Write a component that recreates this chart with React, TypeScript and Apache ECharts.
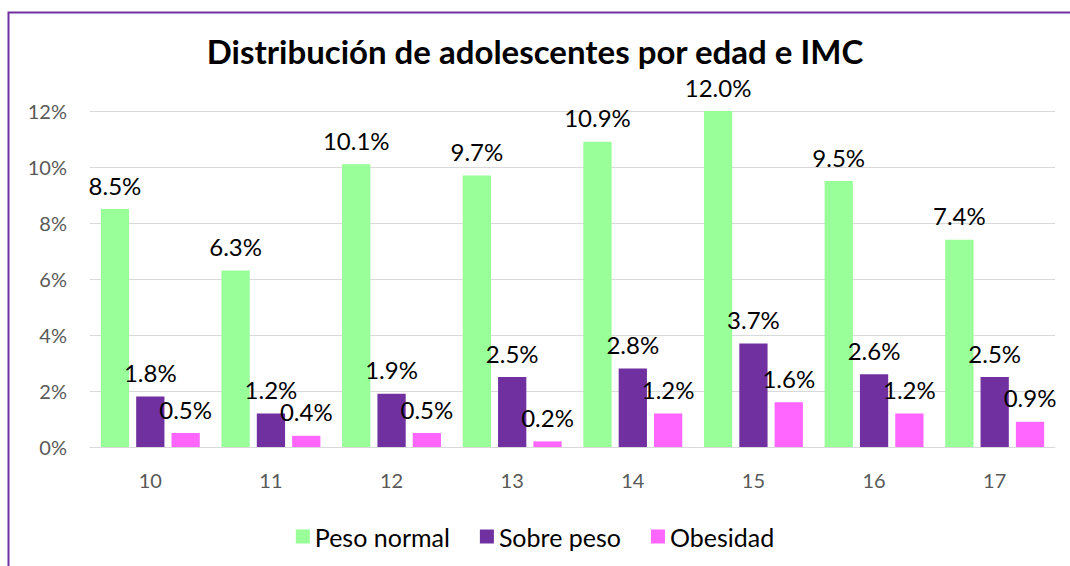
import React, { useEffect, useRef } from "react";
import * as echarts from "echarts";

const categories = ["10", "11", "12", "13", "14", "15", "16", "17"];
const pesoNormal = [8.5, 6.3, 10.1, 9.7, 10.9, 12.0, 9.5, 7.4];
const sobrePeso = [1.8, 1.2, 1.9, 2.5, 2.8, 3.7, 2.6, 2.5];
const obesidad = [0.5, 0.4, 0.5, 0.2, 1.2, 1.6, 1.2, 0.9];
const seriesNames = ["Peso normal", "Sobre peso", "Obesidad"];
const colors = ["#99FF99", "#7030A0", "#FF66FF"];

const FONT = "Lato, 'Noto Sans', sans-serif";

export default function App() {
  const ref = useRef<HTMLDivElement>(null);
  useEffect(() => {
    document.body.style.margin = "0";
    const chart = echarts.init(ref.current!, null, { renderer: "svg" });
    const mk = (name: string, data: number[], color: string) => ({
      name,
      type: "bar",
      data,
      barGap: "25%",
      barCategoryGap: "18%",
      itemStyle: { color },
      label: {
        show: true,
        position: "top",
        distance: 12,
        formatter: (p: any) => p.value.toFixed(1) + "%",
        color: "#000",
        fontSize: 24,
        lineHeight: 24,
        fontFamily: FONT,
      },
    });
    chart.setOption({
      animation: false,
      backgroundColor: "#fff",
      textStyle: { fontFamily: FONT },
      title: {
        text: "Distribución de adolescentes por edad e IMC",
        left: "center",
        top: 34,
        padding: 0,
        textStyle: {
          fontSize: 33,
          lineHeight: 33,
          fontWeight: "bold",
          color: "#000",
          fontFamily: FONT,
        },
      },
      graphic: [
        {
          type: "rect",
          shape: { x: 8.5, y: 12.5, width: 1200, height: 700 },
          style: { fill: "none", stroke: "#7030A0", lineWidth: 2 },
          silent: true,
        },
      ],
      legend: {
        data: seriesNames,
        top: 519,
        left: "center",
        itemWidth: 14,
        itemHeight: 14,
        itemGap: 30,
        icon: "rect",
        textStyle: { fontSize: 25, color: "#000", fontFamily: FONT },
      },
      grid: { left: 90, right: 15, top: 111, bottom: 119 },
      xAxis: {
        type: "category",
        data: categories,
        axisLine: { lineStyle: { color: "#D9D9D9", width: 1 } },
        axisTick: { show: false },
        axisLabel: { color: "#595959", fontSize: 20, margin: 23, fontFamily: FONT },
      },
      yAxis: {
        type: "value",
        min: 0,
        max: 12,
        interval: 2,
        axisLine: { show: false },
        axisTick: { show: false },
        splitLine: { lineStyle: { color: "#D9D9D9", width: 1 } },
        axisLabel: {
          color: "#595959",
          fontSize: 20,
          margin: 23,
          formatter: (v: number) => v + "%",
          fontFamily: FONT,
        },
      },
      series: [
        mk(seriesNames[0], pesoNormal, colors[0]),
        mk(seriesNames[1], sobrePeso, colors[1]),
        mk(seriesNames[2], obesidad, colors[2]),
      ],
    });
    return () => chart.dispose();
  }, []);
  return <div ref={ref} style={{ width: 1070, height: 566 }} />;
}
